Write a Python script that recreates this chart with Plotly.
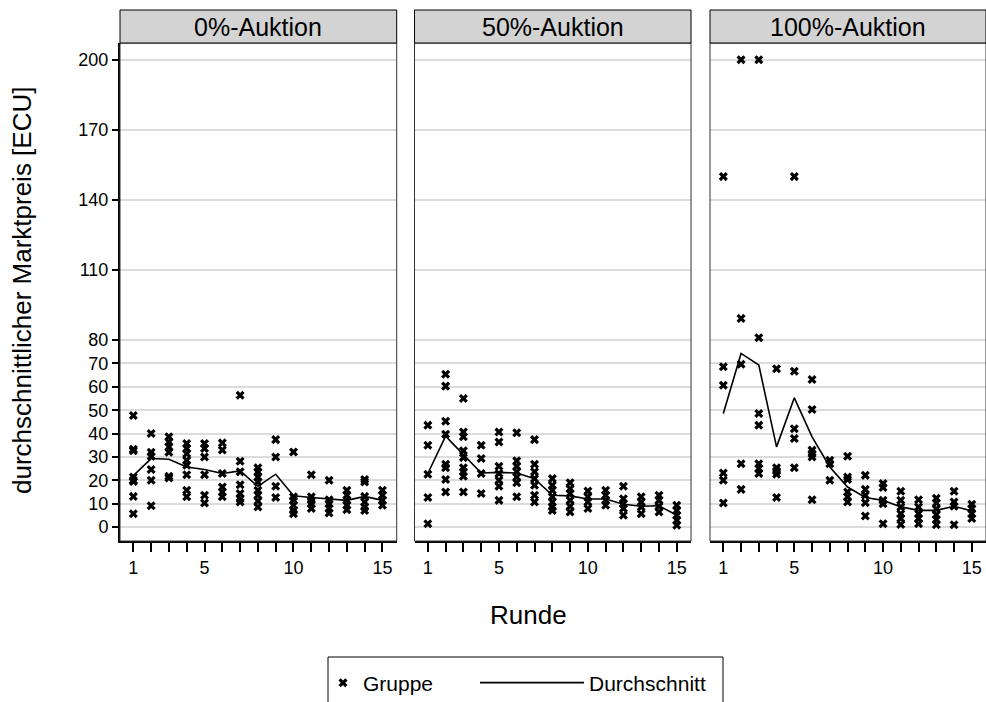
import plotly.graph_objects as go

rounds = list(range(1, 16))
panel_titles = ["0%-Auktion", "50%-Auktion", "100%-Auktion"]
y_tickvals = [0, 10, 20, 30, 40, 50, 60, 70, 80, 110, 140, 170, 200]
x_ticktext = ["1", "", "", "", "5", "", "", "", "", "10", "", "", "", "", "15"]

# group prices per round (Gruppe)
groups_0 = [
    [47.7, 33.3, 32.6, 21.4, 20.0, 19.5, 13.1, 5.7],
    [40.0, 32.0, 30.3, 24.6, 20.0, 9.1],
    [38.6, 36.4, 34.3, 32.0, 21.7, 21.0],
    [35.7, 33.6, 31.4, 28.6, 26.4, 22.4, 15.7, 12.9],
    [35.7, 33.6, 30.0, 22.4, 13.6, 10.3],
    [36.0, 33.0, 22.9, 17.1, 15.0, 12.9],
    [56.4, 28.1, 23.6, 18.1, 14.3, 12.1, 10.7],
    [25.4, 23.6, 21.4, 19.3, 15.7, 13.6, 11.1, 8.6],
    [37.4, 30.0, 17.4, 12.6],
    [32.1, 12.9, 11.4, 9.3, 7.1, 5.7],
    [22.4, 12.9, 11.4, 10.0, 7.9],
    [20.0, 11.7, 10.0, 7.9, 6.0],
    [15.7, 13.6, 11.4, 9.3, 7.4],
    [20.3, 19.3, 13.1, 10.7, 8.6, 7.1],
    [15.7, 13.6, 11.4, 9.3],
]
groups_50 = [
    [43.6, 35.0, 22.6, 12.6, 1.4],
    [65.4, 60.3, 45.3, 39.7, 26.9, 25.4, 20.3, 15.0],
    [55.0, 40.7, 38.6, 32.6, 29.7, 25.4, 23.6, 21.7, 15.0],
    [35.0, 29.3, 22.9, 14.3],
    [40.7, 36.4, 26.0, 22.9, 20.0, 17.4, 11.4],
    [40.3, 28.3, 26.0, 23.6, 21.4, 18.9, 12.9],
    [37.4, 26.9, 23.6, 20.7, 17.9, 13.6, 10.7],
    [20.7, 17.9, 15.7, 12.9, 10.7, 8.6, 7.1],
    [18.9, 16.4, 14.3, 11.4, 8.9, 6.4],
    [15.4, 12.9, 10.7, 7.9],
    [15.7, 13.6, 11.4, 9.3],
    [17.4, 12.1, 10.0, 7.9, 5.0],
    [12.9, 10.7, 8.6, 5.7],
    [13.6, 11.4, 8.9, 6.4],
    [9.3, 7.1, 5.0, 2.9, 0.7],
]
groups_100 = [
    [150, 68.6, 60.7, 23.1, 20.0, 10.3],
    [200, 89.3, 69.7, 27.1, 16.1],
    [200, 81.0, 48.6, 43.6, 27.1, 25.0, 22.9],
    [67.7, 25.4, 24.0, 22.6, 12.6],
    [150, 66.7, 42.1, 37.9, 25.4],
    [63.1, 50.3, 32.9, 31.4, 30.0, 11.7],
    [28.6, 27.1, 20.0],
    [30.3, 21.4, 20.3, 15.0, 12.9, 10.7],
    [22.1, 16.1, 13.6, 10.4, 4.7],
    [18.6, 16.9, 11.4, 10.0, 1.4],
    [15.3, 11.4, 8.6, 5.7, 3.6, 1.1],
    [11.7, 8.6, 5.7, 3.6, 1.4],
    [12.3, 10.3, 7.7, 5.2, 3.2, 1.0],
    [15.3, 10.7, 8.9, 1.0],
    [9.7, 7.9, 5.7, 3.6],
]

# average per round (Durchschnitt)
avg_0 = [22.0, 29.3, 29.0, 25.7, 24.6, 22.9, 24.0, 17.4, 22.6, 13.4, 12.6, 11.9, 11.4, 13.1, 11.4]
avg_50 = [22.9, 38.9, 31.0, 23.1, 23.4, 23.1, 20.7, 13.6, 13.3, 12.0, 12.0, 9.7, 8.9, 9.1, 5.0]
avg_100 = [48.6, 74.3, 69.3, 34.3, 55.3, 38.6, 25.7, 17.1, 12.6, 11.4, 8.6, 7.1, 7.1, 8.9, 6.9]

all_groups = [groups_0, groups_50, groups_100]
all_avgs = [avg_0, avg_50, avg_100]

FONT = "Liberation Sans, Arial, Helvetica, sans-serif"
W, H = 986, 702
ML, MR, MT = 120, 0, 43
MB = H - 541
PW = W - ML - MR
PH = H - MT - MB


def px_x(px):  # window pixel -> paper x
    return (px - ML) / PW


def px_y(py):  # window pixel -> paper y
    return (H - MB - py) / PH


domains = [
    [0.0, px_x(396.7)],
    [px_x(414.5), px_x(691.0)],
    [px_x(710.0), 1.0],
]

fig = go.Figure()
for i in range(3):
    xa = "x" if i == 0 else f"x{i+1}"
    ya = "y" if i == 0 else f"y{i+1}"
    xs, ys = [], []
    for r, vals in zip(rounds, all_groups[i]):
        for v in vals:
            xs.append(r)
            ys.append(v)
    fig.add_trace(go.Scatter(
        x=xs, y=ys, mode="markers", name="Gruppe",
        marker=dict(symbol="x", size=8, color="black", line=dict(width=0)),
        xaxis=xa, yaxis=ya, showlegend=(i == 0), legend="legend",
    ))
    fig.add_trace(go.Scatter(
        x=rounds, y=all_avgs[i], mode="lines", name="Durchschnitt",
        line=dict(color="black", width=1.6),
        xaxis=xa, yaxis=ya, showlegend=(i == 0), legend="legend2",
    ))

layout = dict(
    width=W, height=H,
    margin=dict(l=ML, r=MR, t=MT, b=MB, autoexpand=False),
    paper_bgcolor="white", plot_bgcolor="white",
    font=dict(family=FONT, color="black", size=18),
    legend=dict(
        x=px_x(323), xanchor="left", y=px_y(683), yanchor="middle",
        bgcolor="rgba(0,0,0,0)", borderwidth=0,
        font=dict(size=21, family=FONT), itemwidth=30,
    ),
    legend2=dict(
        x=px_x(475), xanchor="left", y=px_y(683), yanchor="middle",
        bgcolor="rgba(0,0,0,0)", borderwidth=0,
        font=dict(size=21, family=FONT), itemwidth=104,
    ),
)

shapes = []
annotations = []
for i in range(3):
    xk = "xaxis" if i == 0 else f"xaxis{i+1}"
    yk = "yaxis" if i == 0 else f"yaxis{i+1}"
    xref = "x" if i == 0 else f"x{i+1}"
    yref = "y" if i == 0 else f"y{i+1}"
    layout[xk] = dict(
        domain=domains[i], anchor=yref, range=[0.25, 15.8],
        tickmode="array", tickvals=rounds, ticktext=x_ticktext,
        ticks="outside", ticklen=9, tickwidth=1.5, tickcolor="black",
        showline=True, linecolor="black", linewidth=2,
        showgrid=False, zeroline=False,
        tickfont=dict(size=18),
    )
    layout[yk] = dict(
        domain=[0, 1], anchor=xref, range=[-6.0, 207.2],
        tickmode="array", tickvals=y_tickvals,
        showgrid=True, gridcolor="#dcdcdc", gridwidth=1.5,
        zeroline=False,
        showticklabels=(i == 0),
        ticks="outside" if i == 0 else "",
        ticklen=6, tickwidth=1.5, tickcolor="black",
        showline=(i == 0), linecolor="black", linewidth=2,
        tickfont=dict(size=18),
    )
    # panel frame
    shapes.append(dict(
        type="rect", xref=f"{xref} domain", yref=f"{yref} domain",
        x0=0, x1=1, y0=0, y1=1, line=dict(color="#333333", width=1),
        fillcolor="rgba(0,0,0,0)", layer="above",
    ))
    # strip header
    shapes.append(dict(
        type="rect", xref=f"{xref} domain", yref="paper",
        x0=0, x1=1, y0=1, y1=1 + 33 / PH,
        line=dict(color="black", width=1), fillcolor="#d3d3d3", layer="above",
    ))
    annotations.append(dict(
        text=panel_titles[i], xref=f"{xref} domain", yref="paper",
        x=0.5, y=1 + 16.5 / PH, xanchor="center", yanchor="middle",
        showarrow=False, font=dict(size=25, family=FONT),
    ))

# legend frame
shapes.append(dict(
    type="rect", xref="paper", yref="paper",
    x0=px_x(328), x1=px_x(723), y0=px_y(720), y1=px_y(657),
    line=dict(color="black", width=1), fillcolor="rgba(0,0,0,0)",
))

annotations.append(dict(
    text="durchschnittlicher Marktpreis [ECU]", xref="paper", yref="paper",
    x=px_x(22), y=px_y(291), xanchor="center", yanchor="middle",
    textangle=-90, showarrow=False, font=dict(size=26, family=FONT),
))
annotations.append(dict(
    text="Runde", xref="paper", yref="paper",
    x=px_x(528), y=px_y(615), xanchor="center", yanchor="middle",
    showarrow=False, font=dict(size=26, family=FONT),
))

layout["shapes"] = shapes
layout["annotations"] = annotations
fig.update_layout(**layout)
fig.write_html(
    "out.html",
    config={"displayModeBar": False},
    post_script="document.body.style.margin='0';document.body.style.overflow='hidden';",
)
